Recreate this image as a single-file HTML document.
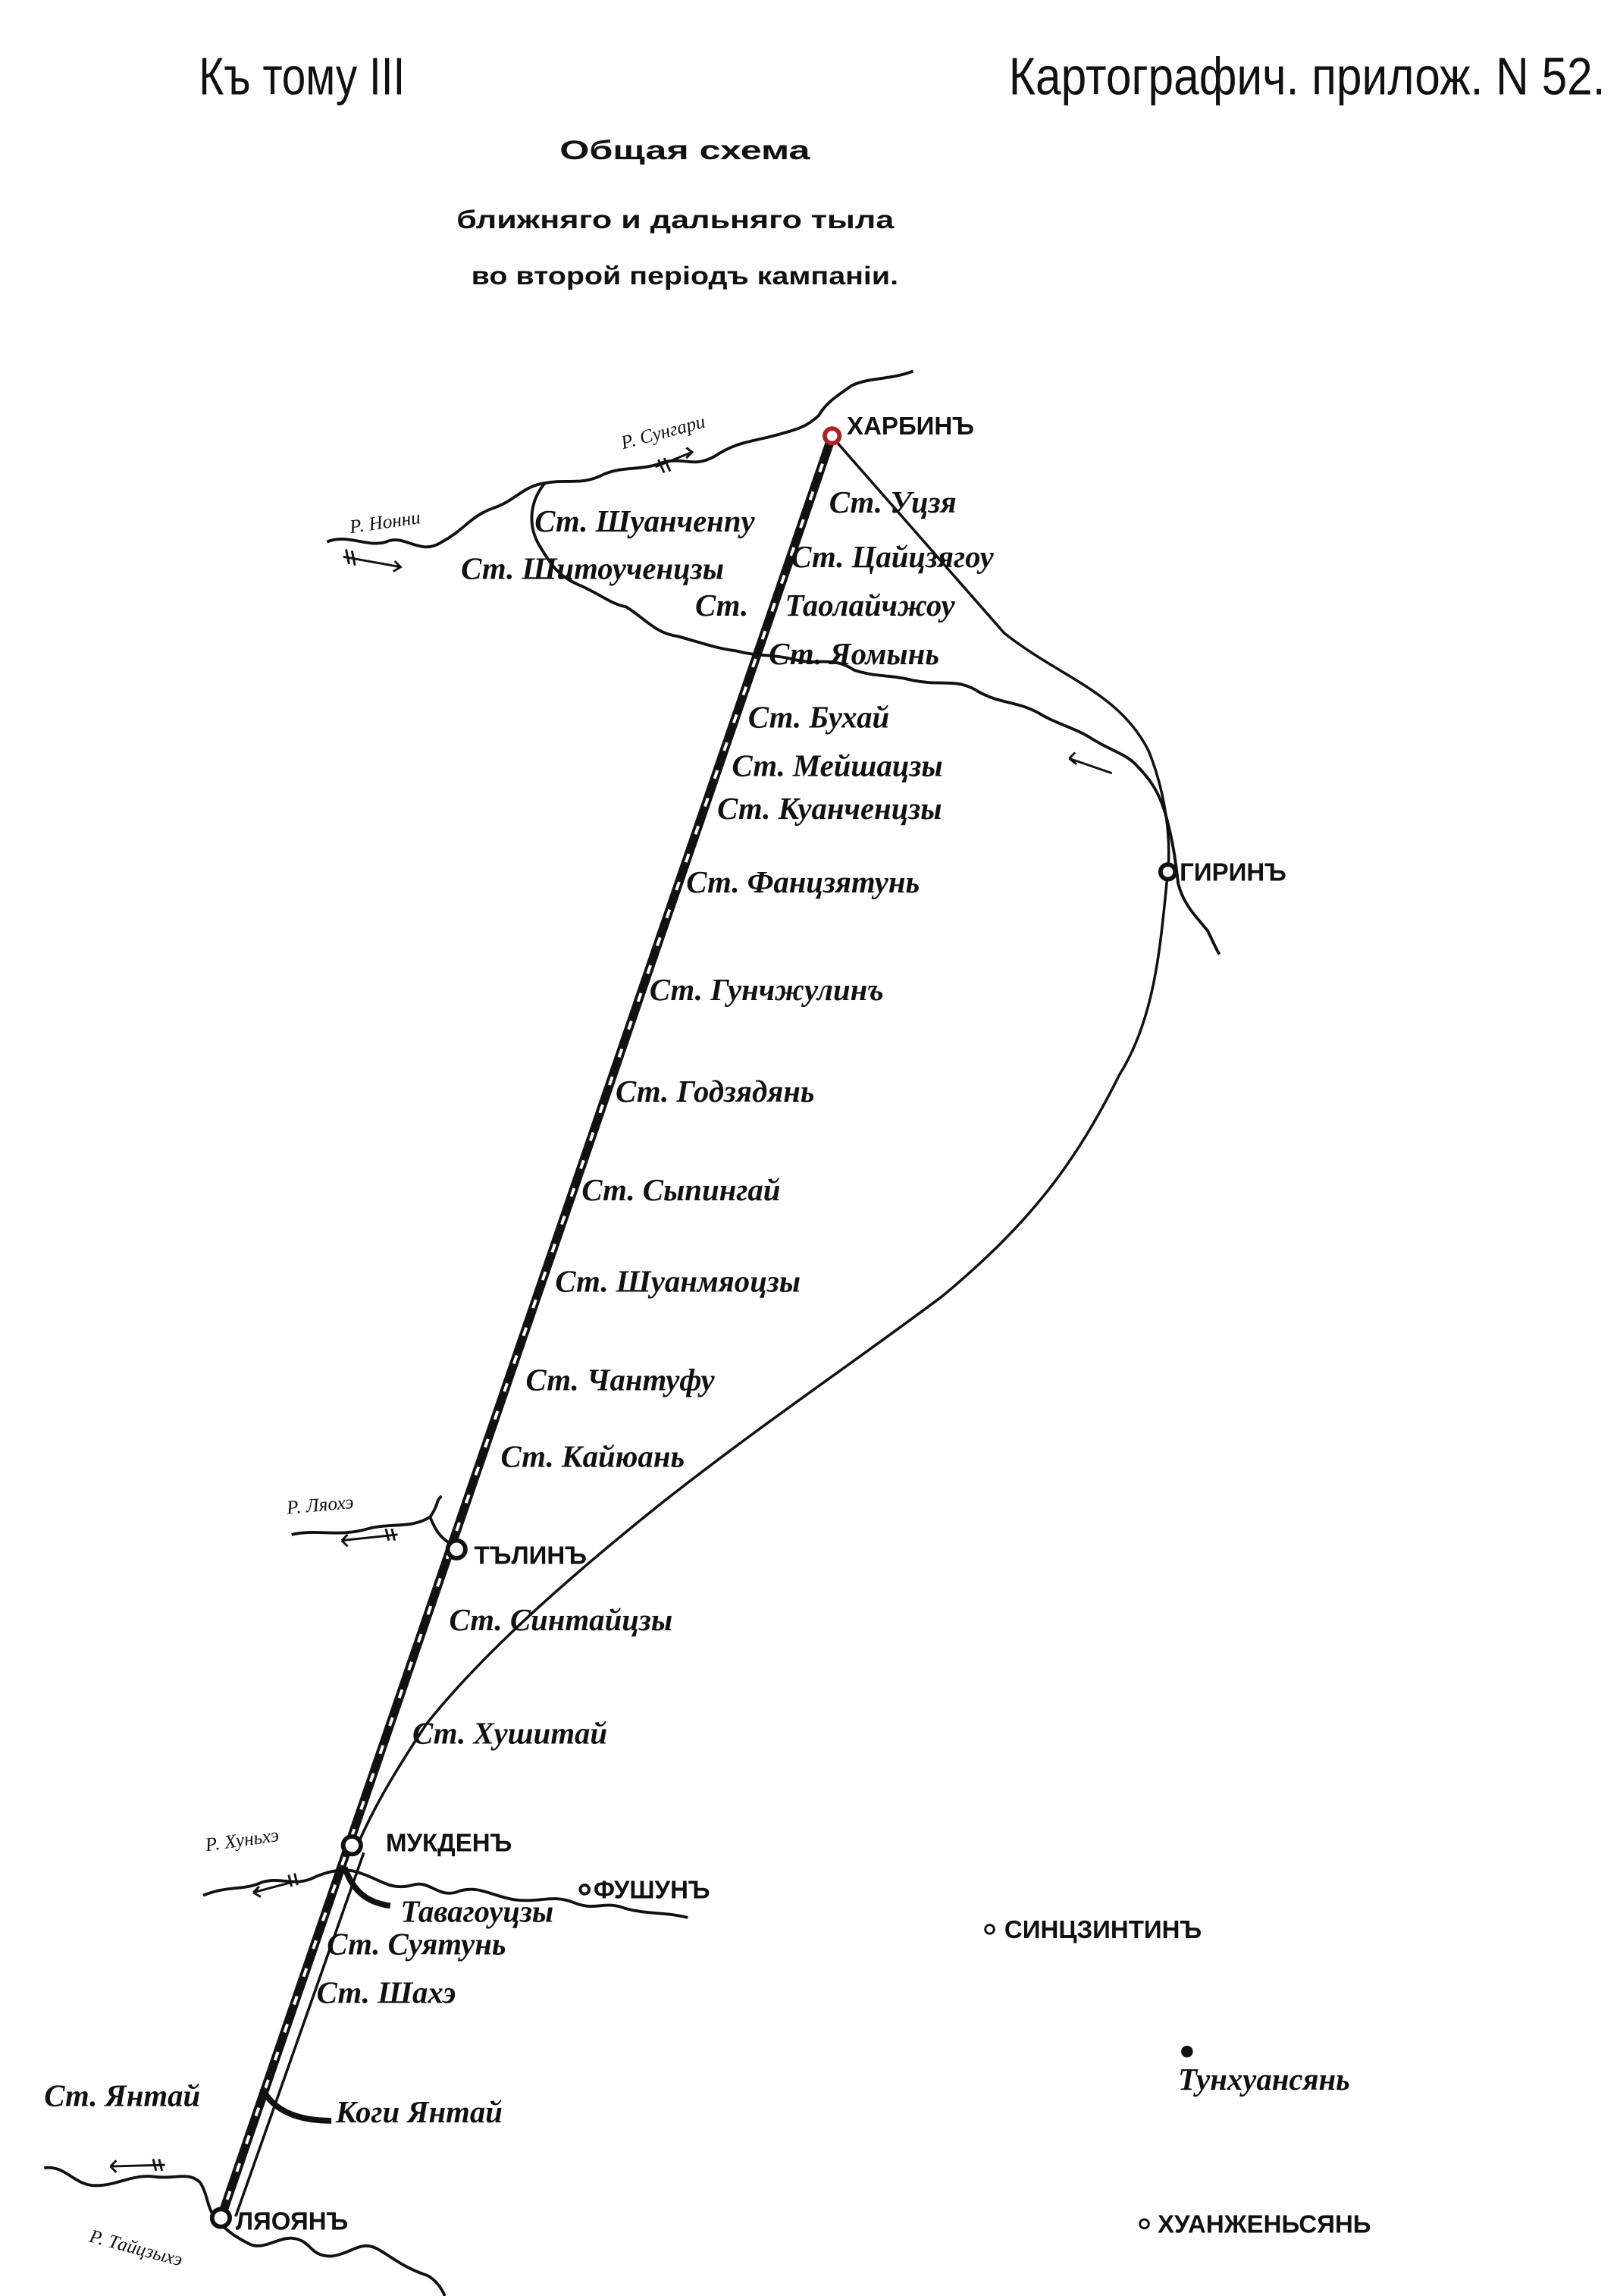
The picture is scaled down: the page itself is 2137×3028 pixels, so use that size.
<!DOCTYPE html>
<html><head><meta charset="utf-8"><style>
html,body{margin:0;padding:0;background:#fff}
svg{display:block}
.h{font-family:"Liberation Sans",sans-serif}
.c{font-family:"Liberation Sans",sans-serif;font-weight:bold;font-size:17px}
.s{font-family:"Liberation Serif",serif;font-style:italic;font-size:21px;font-weight:bold}
.r{font-family:"Liberation Serif",serif;font-style:italic;font-size:13px}
</style></head><body>
<svg width="2137" height="3028" viewBox="0 0 1100 1559" preserveAspectRatio="none" xmlns="http://www.w3.org/2000/svg">
<rect width="1100" height="1559" fill="#fff"/>
<g fill="#111">
<text class="h" x="135" y="64" font-size="36" textLength="140" lengthAdjust="spacingAndGlyphs">Къ тому III</text>
<text class="h" x="685" y="64" font-size="36" textLength="405" lengthAdjust="spacingAndGlyphs">Картографич. прилож. N 52.</text>
<text class="h" x="380" y="108" font-size="18" font-weight="bold" textLength="170" lengthAdjust="spacingAndGlyphs">Общая схема</text>
<text class="h" x="310" y="155" font-size="17" font-weight="bold" textLength="297" lengthAdjust="spacingAndGlyphs">ближняго и дальняго тыла</text>
<text class="h" x="320" y="193" font-size="17" font-weight="bold" textLength="290" lengthAdjust="spacingAndGlyphs">во второй періодъ кампаніи.</text>
</g>
<g fill="none" stroke="#111" stroke-width="2" stroke-linejoin="round">
<path d="M222,368 C235,362 250,372 262,368 C275,362 285,378 300,368 C315,360 320,350 335,345 C350,340 355,330 370,328 C385,325 395,330 410,322 C425,316 435,320 450,314 C465,310 470,318 485,310 C500,300 510,300 525,296 C540,292 548,290 556,282 C562,272 570,268 578,262 C590,256 605,258 620,252"/>
<path d="M370,328 C360,340 358,356 366,370 C375,385 380,392 395,398 C410,405 415,410 425,412 C438,420 445,430 460,432 C475,436 485,440 500,442 C515,446 525,444 540,448 C555,452 565,445 580,455 C595,460 605,458 620,462 C640,466 650,460 665,470 C680,478 690,476 705,484 C718,492 730,494 742,502 C755,510 765,512 772,520 C782,530 788,540 792,555 C796,570 798,582 800,600 C804,615 812,622 820,632 C824,640 826,645 828,648"/>
<path d="M198,1042 C215,1038 230,1044 250,1038 C265,1034 280,1038 292,1030 C298,1022 296,1018 300,1016 M292,1030 C296,1040 300,1046 310,1050"/>
<path d="M138,1287 C155,1280 165,1284 178,1278 C192,1274 200,1282 215,1274 C225,1270 235,1268 245,1272 C258,1276 265,1284 280,1280 C292,1276 298,1290 312,1284 C326,1280 335,1288 350,1290 C368,1292 375,1286 390,1292 C405,1298 410,1290 425,1296 C440,1300 450,1298 467,1302"/>
<path d="M30,1472 C45,1470 50,1484 65,1484 C80,1484 90,1476 105,1478 C118,1480 128,1474 136,1482 C142,1492 140,1500 148,1508 C155,1516 162,1520 170,1524 C180,1528 190,1518 200,1520 C212,1522 210,1532 225,1532 C240,1530 245,1520 258,1528 C268,1534 275,1540 290,1545 C296,1548 300,1554 302,1559"/>
<path d="M568,300 L682,430 C720,460 760,470 780,510 C792,540 795,570 793,592 C788,640 785,690 760,730 C730,790 700,830 640,880 C580,925 520,965 450,1020 C390,1068 330,1120 290,1170 C270,1200 255,1225 244,1250" stroke-width="1.8"/>
<path d="M247,1258 L160,1505" stroke-width="1.8"/>
</g>
<g stroke="#111" stroke-width="1.5" fill="none">
<path d="M445,317 L470,307 M466,304 L470,307 L466,311 M447,312 L451,321 M451,311 L455,320"/>
<path d="M233,378 L272,385 M268,381 L272,385 L267,388 M235,373 L237,383 M239,374 L241,384"/>
<path d="M726,515 L755,525 M726,515 L730,511 M726,515 L731,519"/>
<path d="M232,1046 L270,1042 M232,1046 L236,1042 M232,1046 L236,1050 M262,1038 L264,1046 M266,1038 L268,1046"/>
<path d="M172,1285 L202,1277 M172,1285 L176,1281 M172,1285 L177,1288 M196,1273 L198,1281 M200,1272 L202,1280"/>
<path d="M75,1471 L112,1470 M75,1471 L79,1467 M75,1471 L79,1475 M104,1466 L106,1474 M108,1466 L110,1474"/>
</g>
<line x1="565" y1="296" x2="150" y2="1506" stroke="#111" stroke-width="6"/>
<line x1="565" y1="296" x2="150" y2="1506" stroke="#fff" stroke-width="2" stroke-dasharray="6 14"/>
<path d="M234,1268 C240,1285 250,1292 265,1294" fill="none" stroke="#111" stroke-width="4"/>
<path d="M178,1418 C185,1432 200,1440 225,1440" fill="none" stroke="#111" stroke-width="4"/>
<g fill="#fff" stroke="#111" stroke-width="3">
<circle cx="565" cy="296" r="5" stroke="#a22"/>
<circle cx="793" cy="592" r="5"/>
<circle cx="310" cy="1052" r="6"/>
<circle cx="239" cy="1253" r="6"/>
<circle cx="150" cy="1506" r="6"/>
<circle cx="397" cy="1283" r="3" stroke-width="2"/>
<circle cx="672" cy="1310" r="3" stroke-width="1.5"/>
<circle cx="777" cy="1510" r="3" stroke-width="1.5"/>
</g>
<circle cx="806" cy="1393" r="4" fill="#111"/>
<g fill="#111">
<text class="c" x="575" y="295">ХАРБИНЪ</text>
<text class="c" x="801" y="598">ГИРИНЪ</text>
<text class="c" x="322" y="1062">ТЪЛИНЪ</text>
<text class="c" x="262" y="1257">МУКДЕНЪ</text>
<text class="c" x="403" y="1289" font-size="14">ФУШУНЪ</text>
<text class="c" x="682" y="1316" font-size="14">СИНЦЗИНТИНЪ</text>
<text class="c" x="786" y="1516" font-size="14">ХУАНЖЕНЬСЯНЬ</text>
<text class="c" x="160" y="1514">ЛЯОЯНЪ</text>
<text class="s" x="563" y="348">Ст. Уцзя</text>
<text class="s" x="537" y="385">Ст. Цайцзягоу</text>
<text class="s" x="472" y="418">Ст.</text>
<text class="s" x="533" y="418">Таолайчжоу</text>
<text class="s" x="522" y="451">Ст. Яомынь</text>
<text class="s" x="508" y="494">Ст. Бухай</text>
<text class="s" x="497" y="527">Ст. Мейшацзы</text>
<text class="s" x="487" y="556">Ст. Куанченцзы</text>
<text class="s" x="466" y="606">Ст. Фанцзятунь</text>
<text class="s" x="441" y="679">Ст. Гунчжулинъ</text>
<text class="s" x="418" y="748">Ст. Годзядянь</text>
<text class="s" x="395" y="815">Ст. Сыпингай</text>
<text class="s" x="377" y="877">Ст. Шуанмяоцзы</text>
<text class="s" x="357" y="944">Ст. Чантуфу</text>
<text class="s" x="340" y="996">Ст. Кайюань</text>
<text class="s" x="305" y="1107">Ст. Синтайцзы</text>
<text class="s" x="280" y="1184">Ст. Хушитай</text>
<text class="s" x="272" y="1305">Тавагоуцзы</text>
<text class="s" x="222" y="1327">Ст. Суятунь</text>
<text class="s" x="215" y="1360">Ст. Шахэ</text>
<text class="s" x="30" y="1430">Ст. Янтай</text>
<text class="s" x="228" y="1441">Коги Янтай</text>
<text class="s" x="800" y="1419">Тунхуансянь</text>
<text class="s" x="363" y="361">Ст. Шуанченпу</text>
<text class="s" x="313" y="393">Ст. Шитоученцзы</text>
<text class="r" transform="translate(423,305) rotate(-15)">Р. Сунгари</text>
<text class="r" transform="translate(238,362) rotate(-8)">Р. Нонни</text>
<text class="r" transform="translate(195,1028) rotate(-5)">Р. Ляохэ</text>
<text class="r" transform="translate(140,1257) rotate(-8)">Р. Хуньхэ</text>
<text class="r" transform="translate(60,1522) rotate(15)">Р. Тайцзыхэ</text>
</g>
</svg>
</body></html>
